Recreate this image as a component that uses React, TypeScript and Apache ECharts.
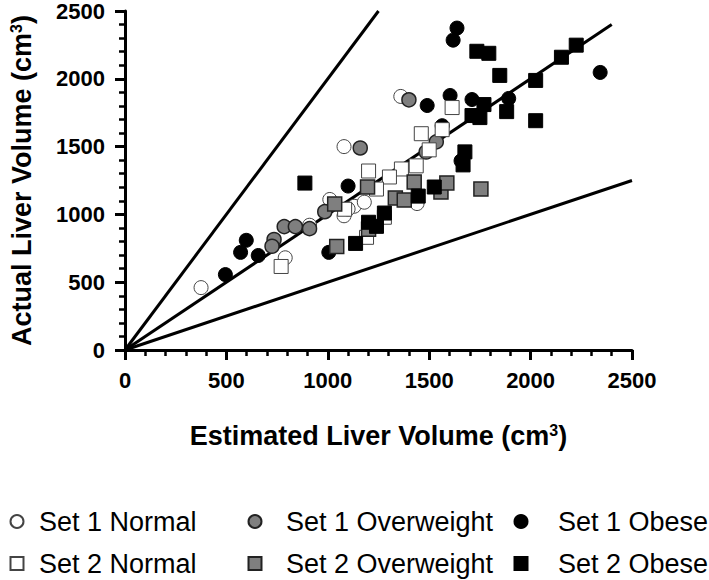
import React, { useEffect, useRef } from "react";
import * as echarts from "echarts";

const seriesNames = [
  "Set 1 Normal",
  "Set 1 Overweight",
  "Set 1 Obese",
  "Set 2 Normal",
  "Set 2 Overweight",
  "Set 2 Obese",
];

const set1Normal = [
  [375, 460], [790, 680], [1080, 1500], [1360, 1870], [1010, 1110], [1080, 990],
  [1130, 1060], [1180, 1090], [910, 920], [1440, 1080], [1100, 1040],
];
const set1Overweight = [
  [735, 815], [725, 765], [785, 910], [840, 910], [910, 895], [985, 1020],
  [1160, 1490], [1400, 1845], [1535, 1535], [1485, 1460],
];
const set1Obese = [
  [495, 556], [570, 720], [598, 809], [657, 697], [1005, 720], [1100, 1209],
  [1637, 2374], [1618, 2285], [1603, 1877], [1711, 1847], [1892, 1855], [1490, 1803],
  [2343, 2047], [1564, 1654], [1657, 1395],
];
const set2Normal = [
  [770, 616], [1613, 1788], [1461, 1595], [1564, 1625], [1500, 1476], [1436, 1358],
  [1363, 1335], [1304, 1276], [1240, 1187], [1279, 979], [1201, 1320], [1191, 831], [1083, 1038],
];
const set2Overweight = [
  [1034, 1076], [1044, 764], [1196, 1202], [1201, 890], [1333, 1121], [1377, 1106],
  [1426, 1239], [1558, 1165], [1587, 1232], [1755, 1187],
];
const set2Obese = [
  [887, 1231], [1137, 786], [1201, 942], [1240, 912], [1279, 1010], [1446, 1135],
  [1525, 1202], [1667, 1365], [1676, 1461], [1711, 1729], [1750, 1714], [1770, 1810],
  [1735, 2203], [1794, 2188], [1848, 2025], [1882, 1758], [2025, 1988], [2025, 1691],
  [2152, 2159], [2225, 2248],
];

const lineDouble = [[0, 0], [1250, 2500]];
const lineIdentity = [[0, 0], [2400, 2400]];
const lineHalf = [[0, 0], [2500, 1250]];

const FONT = "'Liberation Sans', Arial, Helvetica, sans-serif";

export default function App() {
  const ref = useRef<HTMLDivElement>(null);
  useEffect(() => {
    if (!ref.current) return;
    const chart = echarts.init(ref.current, undefined, { renderer: "svg" });

    const styles = [
      { symbol: "circle", color: "#ffffff", borderColor: "#444", borderWidth: 1 },
      { symbol: "circle", color: "#7f7f7f", borderColor: "#222", borderWidth: 1.5 },
      { symbol: "circle", color: "#000000", borderColor: "#000", borderWidth: 1 },
      { symbol: "rect", color: "#ffffff", borderColor: "#444", borderWidth: 1 },
      { symbol: "rect", color: "#7f7f7f", borderColor: "#222", borderWidth: 1.5 },
      { symbol: "rect", color: "#000000", borderColor: "#000", borderWidth: 1 },
    ];
    const datas = [set1Normal, set1Overweight, set1Obese, set2Normal, set2Overweight, set2Obese];

    const refLine = (d: number[][]) => ({
      type: "line",
      data: d,
      symbol: "none",
      silent: true,
      lineStyle: { color: "#000", width: 3 },
      z: 1,
    });

    const scatter = seriesNames.map((name, i) => ({
      type: "scatter",
      name,
      data: datas[i],
      symbol: styles[i].symbol,
      symbolSize: 14,
      itemStyle: {
        color: styles[i].color,
        borderColor: styles[i].borderColor,
        borderWidth: styles[i].borderWidth,
        opacity: 1,
      },
      z: 2 + i,
    }));

    // icon centre x and text start x for each legend column
    const legendCols = [
      { icon: 16, text: 38 },
      { icon: 254, text: 285 },
      { icon: 520, text: 557 },
    ];
    const legendRows = [508, 550];
    const ICON = 13;
    const legends = seriesNames.map((name, i) => {
      const col = legendCols[i % 3];
      const row = legendRows[Math.floor(i / 3)];
      const left = col.icon - ICON / 2;
      const pad = col.text - (left + ICON + 5);
      return {
        data: [name],
        left,
        top: row,
        padding: 0,
        itemWidth: ICON,
        itemHeight: ICON,
        selectedMode: false,
        textStyle: { fontSize: 27, fontFamily: FONT, color: "#000", padding: [0, 0, 0, pad] },
      };
    });

    const axisCommon = {
      type: "value",
      min: 0,
      max: 2500,
      interval: 500,
      axisLine: { show: true, onZero: false, lineStyle: { color: "#000", width: 3 } },
      axisTick: { show: true, length: 10, lineStyle: { color: "#000", width: 3 } },
      minorTick: { show: true, splitNumber: 5, length: 6, lineStyle: { color: "#000", width: 2.5 } },
      splitLine: { show: false },
      minorSplitLine: { show: false },
    };
    const labelCommon = {
      fontSize: 22,
      fontWeight: "bold",
      fontFamily: FONT,
      color: "#000",
      formatter: (v: number) => String(v),
    };
    const nameRich = {
      a: { fontSize: 27, fontWeight: "bold", fontFamily: FONT, color: "#000" },
      s: { fontSize: 16, fontWeight: "bold", fontFamily: FONT, color: "#000", verticalAlign: "top" },
    };

    chart.setOption({
      animation: false,
      backgroundColor: "#fff",
      grid: { left: 120, right: 77, top: 11, bottom: 230, containLabel: false },
      legend: legends,
      xAxis: {
        ...axisCommon,
        name: "{a|Estimated Liver Volume (cm}{s|3}{a|)}",
        nameLocation: "middle",
        nameGap: 72,
        nameTextStyle: { rich: nameRich },
        axisLabel: { ...labelCommon, margin: 19 },
      },
      yAxis: {
        ...axisCommon,
        name: "{a|Actual Liver Volume (cm}{s|3}{a|)}",
        nameLocation: "middle",
        nameGap: 90,
        nameTextStyle: { rich: nameRich },
        axisLabel: { ...labelCommon, margin: 20 },
      },
      series: [refLine(lineDouble), refLine(lineIdentity), refLine(lineHalf), ...scatter],
    });
    return () => chart.dispose();
  }, []);
  return <div ref={ref} style={{ width: 709, height: 580, position: "absolute", left: 0, top: 0 }} />;
}
